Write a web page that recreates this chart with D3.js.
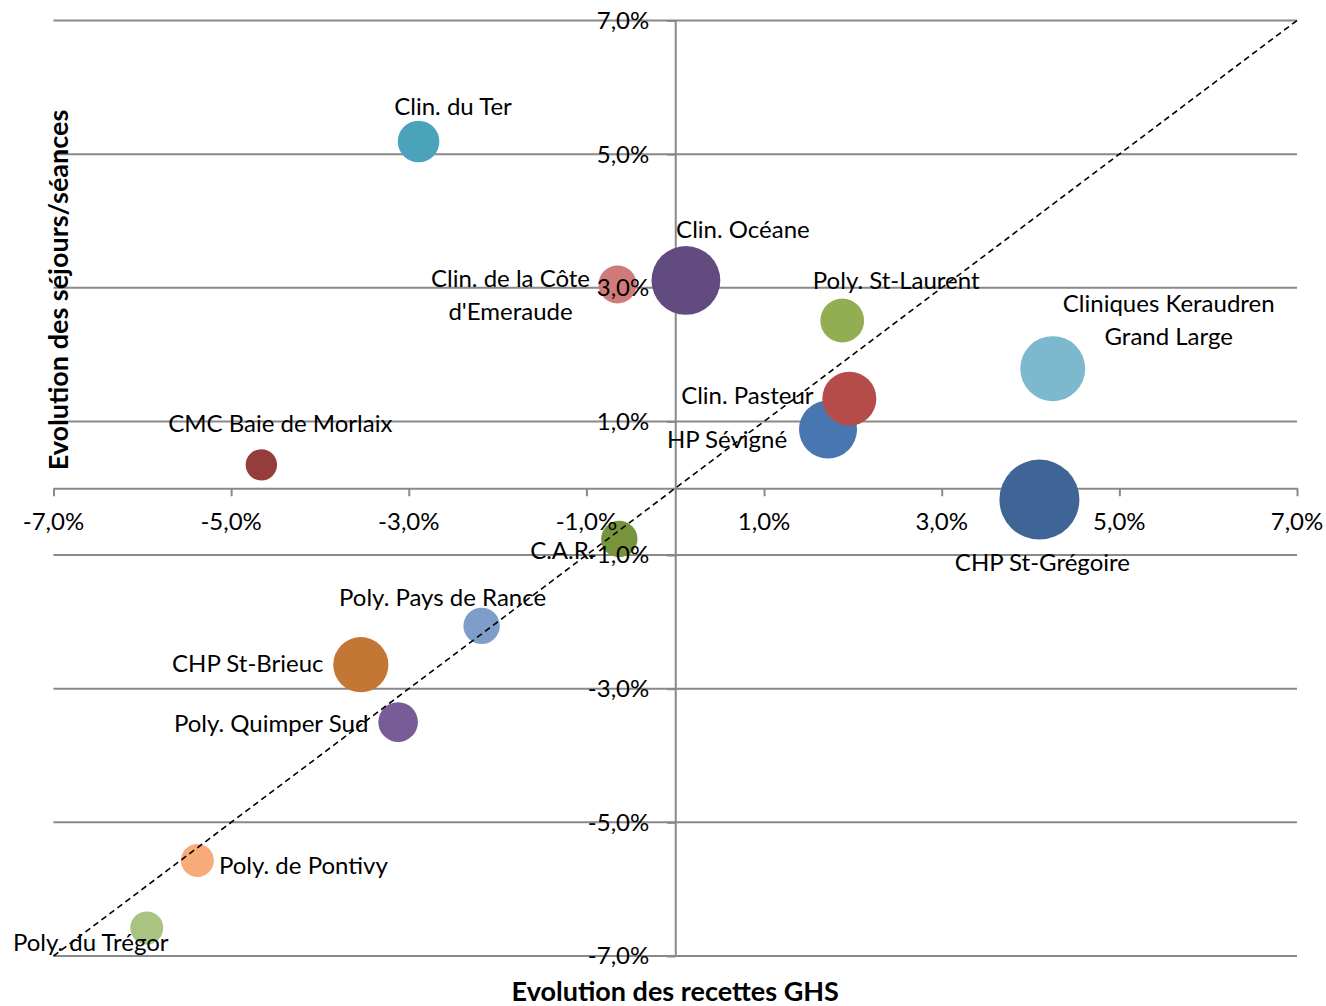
<!DOCTYPE html>
<html>
<head>
<meta charset="utf-8">
<script src="https://cdn.jsdelivr.net/npm/d3@7"></script>
<style>
  html, body { margin: 0; padding: 0; background: #fff; }
  svg { display: block; }
  text { font-family: Lato, "Open Sans", sans-serif; fill: #000; }
</style>
</head>
<body>
<svg id="chart" width="1326" height="1006"></svg>
<script>
// ---- data (values in %) ----
const names = [
  "Clin. du Ter", "Clin. de la Côte\nd'Emeraude", "Clin. Océane", "Poly. St-Laurent",
  "Cliniques Keraudren\nGrand Large", "HP Sévigné", "Clin. Pasteur", "CMC Baie de Morlaix",
  "CHP St-Grégoire", "C.A.R.", "Poly. Pays de Rance", "CHP St-Brieuc",
  "Poly. Quimper Sud", "Poly. de Pontivy", "Poly. du Trégor"
];
const recettesGHS = [-2.89, -0.65, 0.12, 1.88, 4.25, 1.72, 1.96, -4.66, 4.10, -0.63, -2.18, -3.54, -3.12, -5.38, -5.95];
const sejoursSeances = [5.19, 3.05, 3.11, 2.51, 1.79, 0.88, 1.34, 0.35, -0.17, -0.76, -2.06, -2.64, -3.50, -5.57, -6.58];
const bubbleSize = [27, 22.6, 74, 30, 66, 52.6, 45.6, 15.4, 100, 20.7, 20.7, 47.6, 24.5, 17, 17];
const xTicks = [-7, -5, -3, -1, 1, 3, 5, 7];
const yTicks = [-7, -5, -3, -1, 1, 3, 5, 7];
const xTitle = "Evolution des recettes GHS";
const yTitle = "Evolution des séjours/séances";

// ---- styles / layout ----
const colors = ["#4aa3bb", "#d07b7a", "#624c7f", "#91af52", "#7cb9cf", "#4876b0", "#b54c49", "#953c3c",
                "#3e6596", "#77933c", "#7f9dc9", "#c47734", "#775c98", "#f7ab78", "#a9c480"];
// label offsets (px) from bubble centre: [dx, dy of first baseline]
const labelOffsets = [[34.5, -26.5], [-107, 2.5], [57, -42.5], [54, -32], [116, -57], [-101, 19], [-102, 5],
                      [19, -33], [3, 71], [-57, 20], [-39, -20], [-113, 7], [-127, 10], [106, 14], [-56, 23.5]];
const lineGap = 33;
const fontSize = 24;
const titleSize = 27;
const gridColor = "#898989";

const svg = d3.select("#chart");
const x = d3.scaleLinear().domain([-7, 7]).range([53.5, 1297]);
const y = d3.scaleLinear().domain([-7, 7]).range([956, 20.5]);
const r = d3.scaleSqrt().domain([0, 100]).range([0, 40]);
const fmt = v => d3.format(".1f")(v).replace(".", ",").replace("−", "-") + "%";

// gridlines
svg.append("g").selectAll("line").data(yTicks).join("line")
  .attr("x1", x(-7)).attr("x2", x(7))
  .attr("y1", d => y(d)).attr("y2", d => y(d))
  .attr("stroke", gridColor).attr("stroke-width", 2);

// x axis (at y = 0)
const xAxis = svg.append("g").attr("transform", `translate(0,${y(0)})`)
  .call(d3.axisBottom(x).tickValues(xTicks).tickSize(8).tickSizeOuter(0).tickPadding(17).tickFormat(fmt));
xAxis.select(".domain").attr("stroke", gridColor).attr("stroke-width", 2);
xAxis.selectAll(".tick line").attr("stroke", gridColor).attr("stroke-width", 2);
xAxis.selectAll(".tick text").remove();

// y axis (at x = 0)
const yAxis = svg.append("g").attr("transform", `translate(${x(0)},0)`)
  .call(d3.axisLeft(y).tickValues(yTicks).tickSize(8).tickSizeOuter(0).tickPadding(18).tickFormat(fmt));
yAxis.select(".domain").attr("stroke", gridColor).attr("stroke-width", 2);
yAxis.selectAll(".tick line").attr("stroke", gridColor).attr("stroke-width", 2);
yAxis.selectAll(".tick text").remove();

// bubbles
const data = names.map((n, i) => ({ name: n, gx: recettesGHS[i], sy: sejoursSeances[i], s: bubbleSize[i], i }));
svg.append("g").selectAll("circle").data(data).join("circle")
  .attr("cx", d => x(d.gx)).attr("cy", d => y(d.sy)).attr("r", d => r(d.s))
  .attr("fill", d => colors[d.i]);

// diagonal reference line y = x
svg.append("line")
  .attr("x1", x(-7)).attr("y1", y(-7)).attr("x2", x(7)).attr("y2", y(7))
  .attr("stroke", "#000").attr("stroke-width", 1.6).attr("stroke-dasharray", "6,4");

// tick labels (on top of bubbles)
svg.append("g").selectAll("text").data(xTicks).join("text")
  .attr("x", d => x(d)).attr("y", y(0) + 42)
  .attr("text-anchor", "middle").attr("font-size", fontSize).text(fmt);
svg.append("g").selectAll("text").data(yTicks).join("text")
  .attr("x", x(0) - 26).attr("y", d => y(d)).attr("dy", "0.35em")
  .attr("text-anchor", "end").attr("font-size", fontSize).text(fmt);

// bubble labels
const lbl = svg.append("g").selectAll("text").data(data).join("text")
  .attr("text-anchor", "middle").attr("font-size", fontSize)
  .attr("x", d => x(d.gx) + labelOffsets[d.i][0])
  .attr("y", d => y(d.sy) + labelOffsets[d.i][1]);
lbl.each(function(d) {
  const t = d3.select(this);
  d.name.split("\n").forEach((line, k) => {
    t.append("tspan").attr("x", x(d.gx) + labelOffsets[d.i][0]).attr("dy", k === 0 ? 0 : lineGap).text(line);
  });
});

// axis titles
svg.append("text").attr("x", x(0)).attr("y", 1001)
  .attr("text-anchor", "middle").attr("font-size", titleSize).attr("font-weight", "bold").text(xTitle);
svg.append("text").attr("transform", `translate(68,290) rotate(-90)`)
  .attr("text-anchor", "middle").attr("font-size", titleSize).attr("font-weight", "bold").text(yTitle);
</script>
</body>
</html>
